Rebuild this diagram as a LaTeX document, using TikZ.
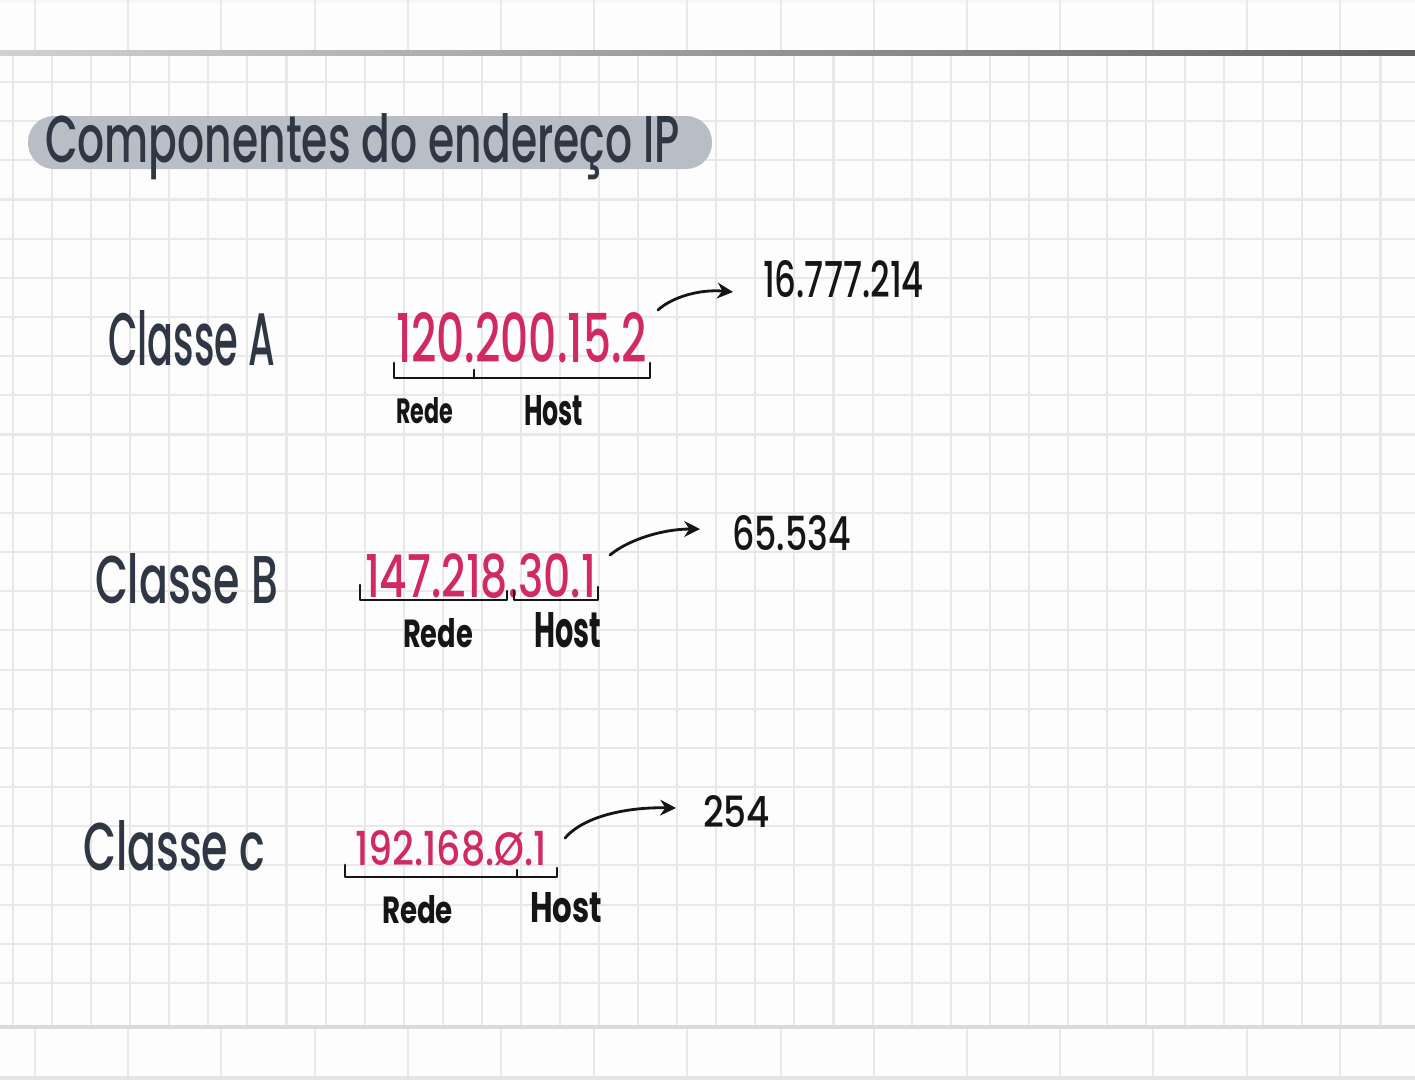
\documentclass[tikz,border=0pt]{standalone}
\usepackage{fontspec}
\setmainfont{Poppins}
\newfontfamily\handm{Poppins Medium}
\usepackage{graphicx}
\usetikzlibrary{arrows.meta}
\definecolor{slate}{HTML}{2E3743}
\definecolor{crim}{HTML}{D02A60}
\definecolor{ink}{HTML}{151515}
\definecolor{pillc}{HTML}{B9BEC6}
\definecolor{gridc}{HTML}{E8E8E8}
\definecolor{bgc}{HTML}{FDFDFD}
\newcommand{\fitt}[3]{\resizebox{#1}{#2}{#3}}
\tikzset{
  lbl/.style={anchor=base west, inner sep=0pt, outer sep=0pt, font=\handm},
  sub/.style={lbl, font=\bfseries},
  gridline/.style={draw=gridc, line width=1.2pt},
  brk/.style={draw=ink, line width=1.6pt, line cap=round, line join=round},
  arr/.style={draw=ink, line width=1.6pt, line cap=round, -{Stealth[length=9pt,width=9pt]}},
}
\begin{document}
\begin{tikzpicture}[x=0.02cm,y=-0.02cm]
\useasboundingbox (0,0) rectangle (1415,1080);
\fill[bgc] (0,0) rectangle (1415,1080);
% top band
\fill[white!97!black] (0,0) rectangle (1415,3);
\foreach \k in {0,...,14} \draw[gridline] ({35+93.2*\k},0) -- ({35+93.2*\k},50);
% main grid
\foreach \i in {0,...,35} \draw[gridline] ({13+39.07*\i},55) -- ({13+39.07*\i},1025);
\foreach \j in {0,...,23} \draw[gridline] (0,{82+39.17*\j}) -- (1415,{82+39.17*\j});
% separators
\shade[left color=black!18, right color=black!62] (0,50) rectangle (1415,55);
\fill[black!14] (0,1025) rectangle (1415,1029);
% bottom band
\foreach \k in {0,...,14} \draw[gridline] ({35+93.2*\k},1029) -- ({35+93.2*\k},1080);
\fill[black!10] (0,1076) rectangle (1415,1080);

% title pill
\fill[pillc, rounded corners=0.52cm] (28,116) rectangle (712,169);
\node[lbl, text=slate] (title) at (45,162) {\fitt{12.7cm}{0.98cm}{Componentes do endereço IP}};

% class labels
\node[lbl, text=slate] (clA) at (108,365) {\fitt{3.34cm}{1.1cm}{Classe A}};
\node[lbl, text=slate] (clB) at (95,603) {\fitt{3.66cm}{1.0cm}{Classe B}};
\node[lbl, text=slate] (clC) at (83,870) {\fitt{3.64cm}{1.0cm}{Classe c}};

% IP addresses
\node[lbl, text=crim] (ipA) at (396,362) {\fitt{5.02cm}{1.0cm}{120.200.15.2}};
\node[lbl, text=crim] (ipB) at (365,597) {\fitt{4.62cm}{0.88cm}{147.218.30.1}};
\node[lbl, text=crim] (ipC) at (355,865) {\fitt{3.84cm}{0.7cm}{192.168.Ø.1}};

% host counts
\node[lbl, text=ink] (nA) at (763,297) {\fitt{3.22cm}{0.74cm}{16.777.214}};
\node[lbl, text=ink] (nB) at (732,550) {\fitt{2.38cm}{0.7cm}{65.534}};
\node[lbl, text=ink] (nC) at (703,827) {\fitt{1.34cm}{0.64cm}{254}};

% Rede / Host labels
\node[sub, text=ink] (redeA) at (396,423) {\fitt{1.14cm}{0.52cm}{Rede}};
\node[sub, text=ink] (hostA) at (524,425) {\fitt{1.18cm}{0.6cm}{Host}};
\node[sub, text=ink] (redeB) at (403,647) {\fitt{1.4cm}{0.58cm}{Rede}};
\node[sub, text=ink] (hostB) at (534,647) {\fitt{1.34cm}{0.7cm}{Host}};
\node[sub, text=ink] (redeC) at (382,923) {\fitt{1.42cm}{0.56cm}{Rede}};
\node[sub, text=ink] (hostC) at (530,922) {\fitt{1.44cm}{0.6cm}{Host}};

% brackets
\draw[brk] (394,363) -- (394,378) -- (650,378) -- (650,363);
\draw[brk] (474,370) -- (474,378);
\draw[brk] (360,585) -- (360,600) -- (507,600) -- (507,591);
\draw[brk] (514,591) -- (514,600) -- (598,600) -- (598,587);
\draw[brk] (345,865) -- (345,877) -- (557,877) -- (557,868);
\draw[brk] (517,870) -- (517,877);

% arrows
\coordinate (aS) at (658,310);
\coordinate (aE) at (733,292);
\coordinate (bS) at (610,555);
\coordinate (bE) at (700,529);
\coordinate (cS) at (565,838);
\coordinate (cE) at (676,808);
\draw[arr] (aS) .. controls (672,297) and (700,289) .. (aE);
\draw[arr] (bS) .. controls (628,540) and (662,529) .. (bE);
\draw[arr] (cS) .. controls (585,815) and (630,807) .. (cE);
\end{tikzpicture}
\end{document}
